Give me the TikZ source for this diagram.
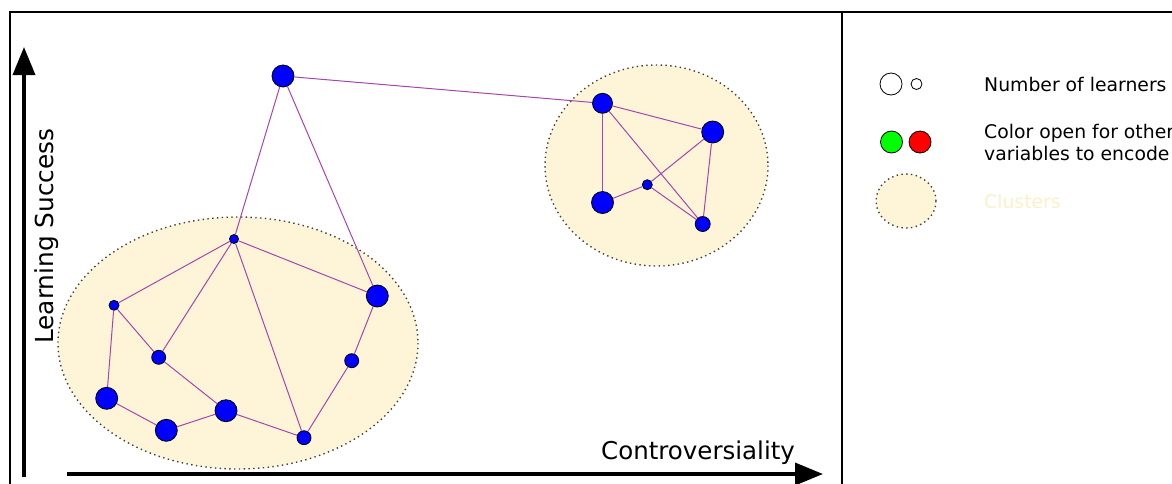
\documentclass[tikz,border=0pt]{standalone}
\usepackage{fontspec}
\setmainfont{DejaVu Sans}
\usetikzlibrary{arrows.meta,shapes.geometric}
\definecolor{clusterfill}{HTML}{FEF5D8}
\definecolor{clustertext}{HTML}{FDF0C8}
\definecolor{edgecol}{HTML}{A646AC}
\tikzset{
  x=1pt, y=-1pt,
  learner/.style={circle, draw=black, line width=0.8pt, fill=blue, inner sep=0pt, minimum size=#1},
  learner/.default=14pt,
  cluster/.style={draw=black!75, fill=clusterfill, dash pattern=on 1.4pt off 3.4pt, line width=1.4pt},
  link/.style={draw=edgecol, line width=1pt},
  axis/.style={line width=3.6pt, -{Triangle[length=28pt, width=22pt]}},
  framebox/.style={line width=2pt},
  legendtext/.style={anchor=west, font=\fontsize{18.8}{22}\selectfont, align=left, inner sep=0pt},
  legendcircle/.style={circle, draw=black, line width=0.8pt, fill=#1, minimum size=22pt, inner sep=0pt},
}
\begin{document}
\begin{tikzpicture}
\useasboundingbox (0,0) rectangle (1172,483);

% frame and legend divider
\draw[framebox] (10,490) -- (10,12) -- (1180,12);
\draw[framebox] (842,12) -- (842,490);

% clusters
\path[cluster] (238,343) ellipse [x radius=180, y radius=126];
\path[cluster] (656.5,165.5) ellipse [x radius=111.5, y radius=100.5];

% axes
\coordinate (ybot) at (24,477);
\coordinate (ytop) at (24,47);
\coordinate (xleft) at (67,474);
\coordinate (xright) at (823,474);
\draw[axis] (ybot) -- (ytop);
\draw[axis] (xleft) -- (xright);
\node[rotate=90, font=\fontsize{24.8}{28}\selectfont, inner sep=0pt] (ylab) at (47,236) {Learning Success};
\node[font=\fontsize{24.5}{28}\selectfont, anchor=base west, inner sep=0pt] (xlab) at (601,459) {Controversiality};

% learners
\node[learner=22pt] (top) at (283,76) {};
\node[learner=20pt] (a) at (602.5,103.3) {};
\node[learner=22pt] (b) at (712.7,132) {};
\node[learner=22pt] (c) at (602.5,202.5) {};
\node[learner=10pt] (d) at (647.3,184.7) {};
\node[learner=15pt] (e) at (702.7,224) {};

\node[learner=9pt]  (n1) at (234,239) {};
\node[learner=10pt] (n2) at (114,305.3) {};
\node[learner=14pt] (n3) at (158.7,357.3) {};
\node[learner=22pt] (n4) at (377.3,296) {};
\node[learner=14pt] (n5) at (351.7,360.7) {};
\node[learner=22pt] (n6) at (106.7,398.3) {};
\node[learner=22pt] (n7) at (166.3,430.3) {};
\node[learner=22pt] (n8) at (226,410.7) {};
\node[learner=14pt] (n9) at (304,437.7) {};

% links between learners
\foreach \u/\v in {top/a, top/n1, top/n4, a/b, a/c, a/e, b/d, b/e, c/d, d/e,
  n1/n2, n1/n3, n1/n4, n1/n9, n2/n3, n2/n6, n3/n8, n6/n7, n7/n8, n8/n9, n9/n5, n5/n4}
  \draw[link] (\u) -- (\v);

% legend
\node[legendcircle=white] (lbig) at (891,84) {};
\node[legendcircle=white, minimum size=11pt] (lsmall) at (916.5,84) {};
\node[legendtext] (t1) at (984,84) {Number of learners};
\node[legendcircle=green] (lgreen) at (891.5,142) {};
\node[legendcircle=red] (lred) at (920,142) {};
\node[legendtext] (t2) at (984,142) {Color open for other\\variables to encode};
\node[cluster, ellipse, minimum width=60pt, minimum height=54pt, inner sep=0pt] (lcl) at (906,201) {};
\node[legendtext, text=clustertext] (t3) at (984,201) {Clusters};
\end{tikzpicture}
\end{document}
